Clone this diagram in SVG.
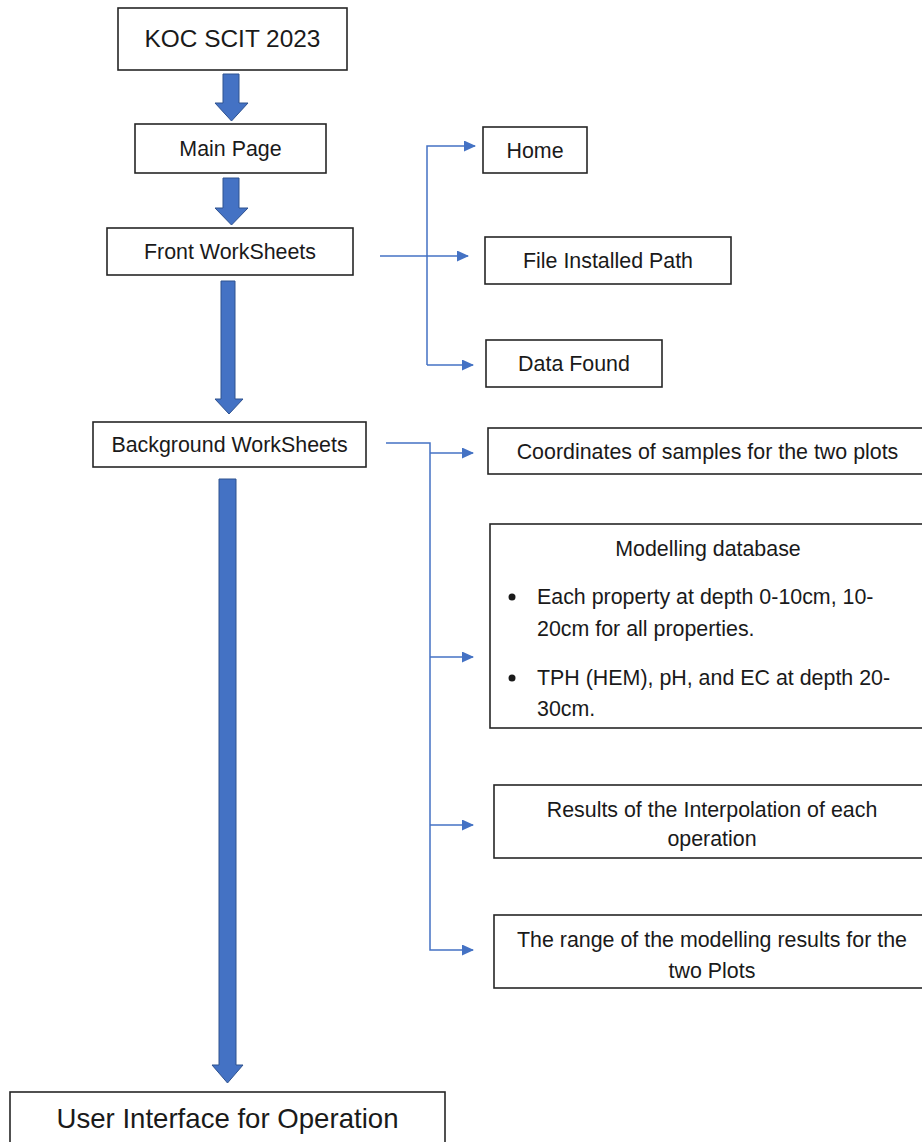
<svg xmlns="http://www.w3.org/2000/svg" width="922" height="1142" viewBox="0 0 922 1142">
<style>
.box{fill:#fff;stroke:#262626;stroke-width:1.6}
.t{font-family:"Liberation Sans",Arial,sans-serif;fill:#1a1a1a;text-anchor:middle;font-size:21.4px}
.tl{font-family:"Liberation Sans",Arial,sans-serif;fill:#1a1a1a;font-size:21.4px}
.ba{fill:#4472C4;stroke:#2F528F;stroke-width:1}
.cn{fill:none;stroke:#4472C4;stroke-width:1.5}
</style>
<defs>
<marker id="ah" markerWidth="12" markerHeight="11" refX="11" refY="5.5" orient="auto" markerUnits="userSpaceOnUse">
<path d="M0,0 L12,5.5 L0,11 Z" fill="#4472C4"/>
</marker>
</defs>
<g id="connectors">
<path class="ba" d="M223,74 H239 V103 H248 L231.5,121 L215,103 H223 Z"/>
<path class="ba" d="M223,178 H239 V208 H248 L231.5,225 L215,208 H223 Z"/>
<path class="ba" d="M221,281 H235 V399 H243 L229,414 L215,399 H221 Z"/>
<path class="ba" d="M219,479 H236 V1065 H243 L227.5,1083 L212,1065 H219 Z"/>
<path class="cn" d="M380,256 H468" marker-end="url(#ah)"/>
<path class="cn" d="M427,365 V146 H475" marker-end="url(#ah)"/>
<path class="cn" d="M427,365 H473" marker-end="url(#ah)"/>
<path class="cn" d="M386,443 H430 V950 H473" marker-end="url(#ah)"/>
<path class="cn" d="M430,453 H473" marker-end="url(#ah)"/>
<path class="cn" d="M430,657 H473" marker-end="url(#ah)"/>
<path class="cn" d="M430,825 H473" marker-end="url(#ah)"/>
</g>
<g id="koc"><rect class="box" x="118" y="8" width="229" height="62"/><text class="t" x="232.5" y="47" style="font-size:24.4px">KOC SCIT 2023</text></g>
<g id="main"><rect class="box" x="135" y="124" width="191" height="49"/><text class="t" x="230.5" y="156">Main Page</text></g>
<g id="front"><rect class="box" x="107" y="228" width="246" height="47"/><text class="t" x="230" y="259">Front WorkSheets</text></g>
<g id="background"><rect class="box" x="93" y="422" width="273" height="45"/><text class="t" x="229.5" y="452">Background WorkSheets</text></g>
<g id="ui"><rect class="box" x="10" y="1092" width="435" height="70"/><text class="t" x="227.5" y="1128" style="font-size:27.6px">User Interface for Operation</text></g>
<g id="home"><rect class="box" x="483" y="127" width="104" height="46"/><text class="t" x="535" y="158">Home</text></g>
<g id="path"><rect class="box" x="485" y="237" width="246" height="47"/><text class="t" x="608" y="268">File Installed Path</text></g>
<g id="data"><rect class="box" x="486" y="340" width="176" height="47"/><text class="t" x="574" y="371">Data Found</text></g>
<g id="coords"><rect class="box" x="488" y="428" width="450" height="46"/><text class="t" x="707.5" y="459">Coordinates of samples for the two plots</text></g>
<g id="modelling"><rect class="box" x="490" y="524" width="450" height="204"/>
<text class="t" x="708" y="556">Modelling database</text>
<circle cx="512" cy="597" r="3.5" fill="#1a1a1a"/>
<circle cx="512" cy="678" r="3.5" fill="#1a1a1a"/>
<text class="tl" x="537" y="604">Each property at depth 0-10cm, 10-</text>
<text class="tl" x="537" y="636">20cm for all properties.</text>
<text class="tl" x="537" y="685">TPH (HEM), pH, and EC at depth 20-</text>
<text class="tl" x="537" y="716">30cm.</text>
</g>
<g id="results"><rect class="box" x="494" y="785" width="450" height="73"/>
<text class="t" x="712" y="817">Results of the Interpolation of each</text>
<text class="t" x="712" y="846">operation</text></g>
<g id="range"><rect class="box" x="494" y="915" width="450" height="73"/>
<text class="t" x="712" y="947">The range of the modelling results for the</text>
<text class="t" x="712" y="978">two Plots</text></g>
</svg>
